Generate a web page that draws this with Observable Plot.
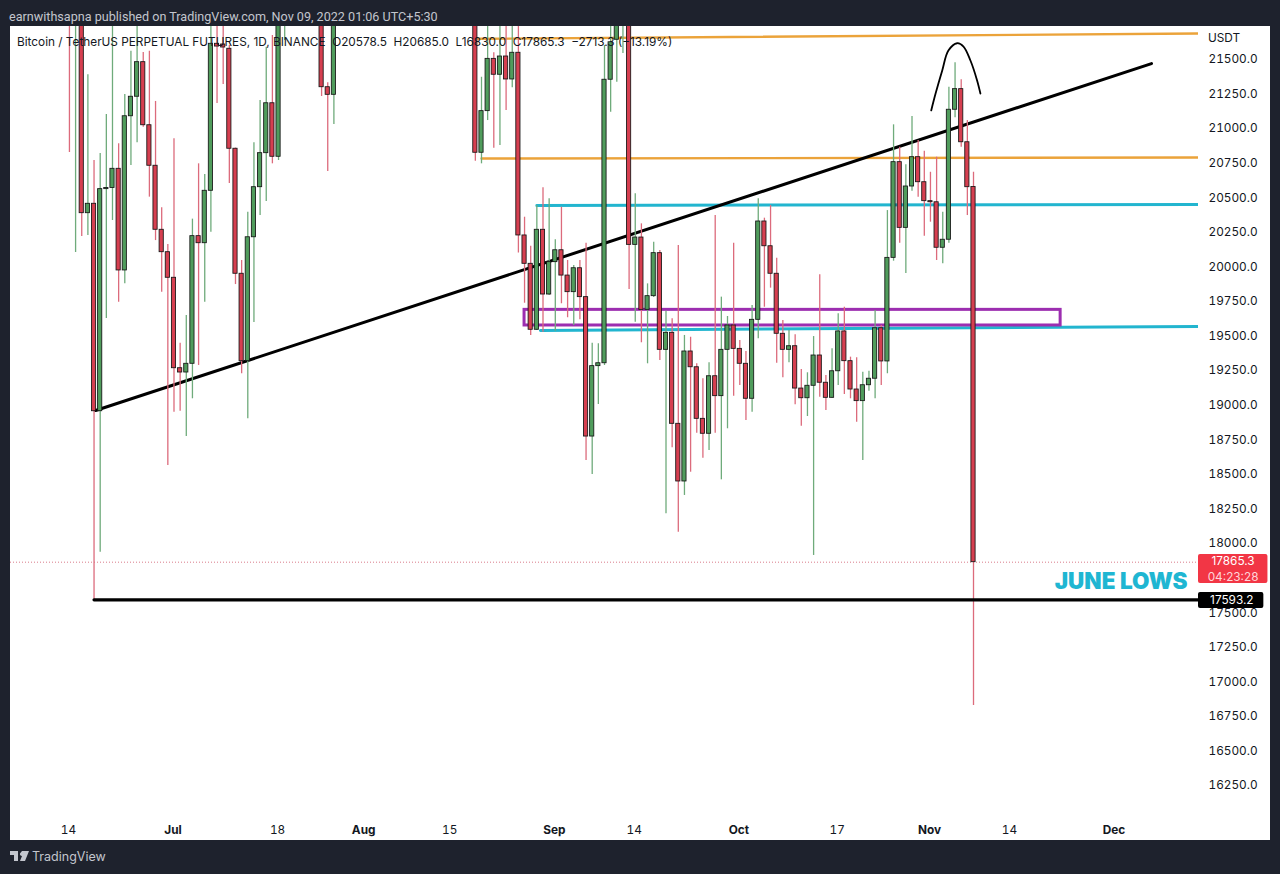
<!DOCTYPE html>
<html><head><meta charset="utf-8">
<script src="https://cdn.jsdelivr.net/npm/d3@7"></script>
<script src="https://cdn.jsdelivr.net/npm/@observablehq/plot@0.6"></script>
<style>
html,body{margin:0;padding:0;background:#1e222d;overflow:hidden}
#stage{position:relative;width:1280px;height:874px;background:#1e222d;font-family:Inter,Roboto,sans-serif}
#panel{position:absolute;left:10px;top:26px;width:1260px;height:814px;background:#fff}
#chart{position:absolute;left:0;top:0}
#pub{position:absolute;left:9px;top:9px;color:#c3c6ce;font:12.6px Roboto,sans-serif;white-space:nowrap}
#legend{position:absolute;left:17px;top:35px;color:#131722;font:11.8px Inter,sans-serif;white-space:pre}
#usdt{position:absolute;left:1208px;top:31px;color:#131722;font:11.8px Inter,sans-serif}
#brand{position:absolute;left:10px;top:849px;color:#c3c6ce;font:12.5px Inter,sans-serif;display:flex;align-items:center;gap:3px}
</style></head><body>
<div id="stage">
<div id="panel"></div>
<div id="chart"></div>
<div id="pub">earnwithsapna published on TradingView.com, Nov 09, 2022 01:06 UTC+5:30</div>
<div id="legend">Bitcoin / TetherUS PERPETUAL FUTURES, 1D, BINANCE  O20578.5  H20685.0  L16830.0  C17865.3  −2713.3 (−13.19%)</div>
<div id="usdt">USDT</div>
<div id="brand"><svg width="19" height="11" viewBox="0 0 19 11"><path fill="#c3c6ce" d="M0 0h8v10H4V4H0zM12 0h7l-4 10h-5l2-5a2 2 0 0 1-2-2.500z"/></svg><span>TradingView</span></div>
</div>
<script>
const dates = ["06-14","06-15","06-16","06-17","06-18","06-19","06-20","06-21","06-22","06-23","06-24","06-25","06-26","06-27","06-28","06-29","06-30",
"07-01","07-02","07-03","07-04","07-05","07-06","07-07","07-08","07-09","07-10","07-11","07-12","07-13","07-14","07-15","07-16","07-17","07-18","07-19",
"07-25","07-26","07-27",
"08-19","08-20","08-21","08-22","08-23","08-24","08-25","08-26","08-27","08-28","08-29","08-30","08-31",
"09-01","09-02","09-03","09-04","09-05","09-06","09-07","09-08","09-09","09-10","09-11","09-12","09-13","09-14","09-15","09-16","09-17","09-18","09-19","09-20","09-21","09-22","09-23","09-24","09-25","09-26","09-27","09-28","09-29","09-30",
"10-01","10-02","10-03","10-04","10-05","10-06","10-07","10-08","10-09","10-10","10-11","10-12","10-13","10-14","10-15","10-16","10-17","10-18","10-19","10-20","10-21","10-22","10-23","10-24","10-25","10-26","10-27","10-28","10-29","10-30","10-31",
"11-01","11-02","11-03","11-04","11-05","11-06","11-07","11-08"];
const opens = [22500,22100,22600,20389,20457,18957,20563,20571,20710,19975,21090,21231,21481,21025,20732,20269,20107,
19922,19268,19237,19300,20223,20172,20551,21614,21609,21578,20855,19951,19319,20215,20577,20823,21184,20797,22000,
22300,21300,21245,
22500,20826,21127,21505,21390,21522,21356,21549,20228,20023,19546,20269,19801,
20035,20121,19938,19818,19991,19782,18774,19283,19304,21354,21643,22000,22300,20160,20213,19690,19789,20100,19401,19524,18866,18449,19389,19275,18902,18794,19210,19066,19401,19577,
19408,19300,19047,19618,20329,20150,19951,19517,19401,19427,19121,19051,19141,19360,19163,19054,19246,19534,19319,19114,19030,19145,19192,19557,19317,20066,20758,20283,20582,20794,20613,
20476,20468,20139,20197,21137,21286,20902,20578.5];
const highs = [22800,22800,22800,21390,20770,20821,21103,21900,20891,21247,21560,21800,21551,21560,21197,20428,20163,
20927,19449,19649,20346,20746,20669,21800,21800,21800,21602,20860,20047,20396,20898,21204,21589,21674,22300,22500,
22400,21332,22500,
22700,21372,21800,21549,21800,21800,21800,21800,20360,20150,20445,20573,20493,
20197,20432,20047,20011,20047,20172,19449,19445,21602,21800,22100,22500,22500,20529,20312,19878,20179,20119,19680,19625,20155,19505,19492,19300,19191,19307,20372,19782,19642,20172,
19468,19389,19722,20493,20353,20445,20064,19613,19541,19510,19259,19235,19497,19943,19215,19408,19662,19709,19348,19343,19239,19246,19685,19577,20408,21028,20866,20739,21088,20915,20837,
20685,20794,20396,21300,21476,21354,21059,20685];
const lows = [20828,20105,20220,20228,17593,17938,19628,20336,19745,19878,20734,20898,21010,20505,20191,19818,18565,
18950,18957,18774,19047,19288,19745,20252,21182,21320,20604,19873,19228,18902,19599,20372,20474,20746,20770,21638,
21233,20691,21030,
20765,20746,21059,20859,20878,21132,21296,20101,19738,19505,19541,19528,19794,
19536,19734,19633,19577,19618,18601,18499,19006,19288,21119,21336,21544,19837,19601,19452,19300,19779,19324,18215,18693,18082,18348,18516,18798,18617,18673,18798,18461,18830,19066,
19143,18890,18950,19481,19709,19847,19304,19199,19307,19003,18849,18919,17914,19058,18962,19049,19143,19078,19047,18878,18601,19102,19047,19143,19228,20042,20172,19953,20548,20505,20223,
20324,20047,20023,20172,21079,20866,20372,16830];
const closes = [22100,22600,20389,20457,18957,20563,20571,20710,19975,21090,21231,21481,21025,20732,20269,20107,19922,
19268,19237,19300,20223,20172,20551,21614,21594,21587,20855,19951,19319,20215,20577,20823,21184,20797,22000,22300,
21300,21245,22200,
20826,21127,21505,21390,21522,21356,21549,20228,20023,19546,20269,19801,20035,
20121,19938,19818,19991,19782,18774,19283,19304,21354,21625,22000,22300,20160,20213,19690,19789,20100,19401,19524,18866,18449,19389,19275,18902,18794,19210,19066,19401,19577,19408,
19300,19047,19618,20329,20150,19951,19517,19401,19427,19121,19051,19141,19360,19163,19054,19246,19534,19319,19114,19030,19145,19192,19557,19317,20066,20758,20283,20582,20794,20613,20476,
20468,20139,20197,21137,21286,20902,20577,17865.3];

const priceTicks = [16250,16500,16750,17000,17250,17500,17750,18000,18250,18500,18750,19000,19250,19500,19750,20000,20250,20500,20750,21000,21250,21500];
const dayTicks = ["2022-06-14","2022-07-18","2022-08-15","2022-09-14","2022-10-17","2022-11-14"];
const monthTicks = ["2022-07-01","2022-08-01","2022-09-01","2022-10-01","2022-11-01","2022-12-01"];

const xDomain = ["2022-06-04T10:00Z","2022-12-14T14:00Z"];
const yDomain = [16012,21739];

const orangeTopDates = ["2022-08-19T12:00Z","2022-12-14T14:00Z"], orangeTopPrices = [21650,21688];
const orangeLowDates = ["2022-08-20T00:00Z","2022-12-14T14:00Z"], orangeLowPrices = [20784,20792];
const tealTopDates = ["2022-08-29T00:00Z","2022-12-14T14:00Z"], tealTopPrices = [20445,20452];
const tealLowDates = ["2022-08-29T14:00Z","2022-12-14T14:00Z"], tealLowPrices = [19541,19570];
const trendDates = ["2022-06-18T06:00Z","2022-12-06T22:30Z"], trendPrices = [18962,21471];
const juneLowDates = ["2022-06-18T00:00Z","2022-12-14T14:00Z"], juneLowPrices = [17593.2,17593.2];
const arcDates = ["2022-11-01T03:00Z","2022-11-01T20:00Z","2022-11-02T22:00Z","2022-11-03T22:00Z","2022-11-05T08:00Z","2022-11-06T09:00Z","2022-11-07T12:00Z","2022-11-08T14:00Z","2022-11-09T03:00Z"];
const arcPrices = [21132,21254,21421,21565,21618,21594,21493,21349,21254];
const boxDates = ["2022-08-27T00:00Z","2022-11-22T04:00Z"], boxPrices = [19577,19690];

const RED="#d63f50", GREEN="#509c5c", REDW="#dc6b7c", GREENW="#6fab7b";
const candles = dates.map((d,i)=>{
  const t = new Date(`2022-${d}T00:00Z`);
  return {t, t1:new Date(+t-0.34*864e5), t2:new Date(+t+0.34*864e5),
    o:opens[i], h:highs[i], l:lows[i], c:closes[i], up:closes[i]>=opens[i]};
});
const seg = (ds,ps)=>ds.map((d,i)=>({x:new Date(d),y:ps[i]}));
const lineMark=(ds,ps,stroke,strokeWidth)=>Plot.line(seg(ds,ps),{x:"x",y:"y",stroke,strokeWidth,clip:true});

const chart = Plot.plot({
  width:1280,height:874,marginLeft:10,marginRight:82,marginTop:26,marginBottom:56,
  style:{background:"transparent",fontFamily:"Inter, sans-serif",fontSize:"11.8px",color:"#131722"},
  x:{type:"utc",domain:xDomain.map(d=>new Date(d))},
  y:{domain:yDomain},
  marks:[
    Plot.ruleY([17865.3],{stroke:"#d97c8a",strokeDasharray:"1,2",strokeWidth:1}),
    lineMark(orangeTopDates,orangeTopPrices,"#eba33a",2.4),
    lineMark(orangeLowDates,orangeLowPrices,"#eba33a",2.4),
    lineMark(tealTopDates,tealTopPrices,"#22b5cf",3),
    lineMark(tealLowDates,tealLowPrices,"#22b5cf",3),
    Plot.rect([{}],{x1:()=>new Date(boxDates[0]),x2:()=>new Date(boxDates[1]),y1:()=>boxPrices[0],y2:()=>boxPrices[1],fill:"none",stroke:"#9c2eb0",strokeWidth:3}),
    lineMark(trendDates,trendPrices,"#000",3),
    Plot.ruleX(candles,{x:"t",y1:"l",y2:"h",stroke:d=>d.up?GREENW:REDW,strokeWidth:1.3,clip:true}),
    Plot.rect(candles,{x1:"t1",x2:"t2",y1:"o",y2:"c",fill:d=>d.up?GREEN:RED,stroke:"#151515",strokeWidth:0.85,clip:true}),
    lineMark(juneLowDates,juneLowPrices,"#000",3.2),
    Plot.line(seg(arcDates,arcPrices),{x:"x",y:"y",stroke:"#000",strokeWidth:1.8,curve:"catmull-rom"}),
    Plot.axisY({anchor:"right",ticks:priceTicks,tickSize:0,tickPadding:10,tickFormat:d3.format(".1f"),label:null,textAnchor:"start",fill:"#131722"}),
    Plot.axisX({ticks:dayTicks.map(d=>new Date(d+"T00:00Z")),tickSize:0,tickPadding:7,dx:-1,tickFormat:d=>d3.utcFormat("%-d")(d),label:null,fill:"#131722"}),
    Plot.axisX({ticks:monthTicks.map(d=>new Date(d+"T00:00Z")),tickSize:0,tickPadding:7,dx:-1,tickFormat:d=>d3.utcFormat("%b")(d),label:null,fontWeight:"bold",fill:"#131722"}),
    Plot.text(["JUNE LOWS"],{x:()=>new Date("2022-12-02T00:00Z"),y:()=>17726,fill:"#1fb6d2",fontSize:22.5,fontWeight:900,fontFamily:"Inter, sans-serif",letterSpacing:"-0.4px",text:d=>d}),
    Plot.rect([{}],{x1:()=>new Date("2022-12-14T14:00Z"),x2:()=>new Date("2022-12-25T21:00Z"),y1:()=>17711,y2:()=>17921,fill:"#f23645",rx:2}),
    Plot.rect([{}],{x1:()=>new Date("2022-12-14T14:00Z"),x2:()=>new Date("2022-12-25T05:00Z"),y1:()=>17531,y2:()=>17646,fill:"#000",rx:2}),
    Plot.text(["17865.3"],{x:()=>new Date("2022-12-20T05:00Z"),y:()=>17872,fill:"#fff",fontSize:11.8,text:d=>d}),
    Plot.text(["04:23:28"],{x:()=>new Date("2022-12-20T05:00Z"),y:()=>17760,fill:"#ffd5d9",fontSize:11.8,text:d=>d}),
    Plot.text(["17593.2"],{x:()=>new Date("2022-12-20T00:00Z"),y:()=>17593.2,fill:"#fff",fontSize:11.8,text:d=>d})
  ]
});
document.getElementById("chart").append(chart);
</script>
</body></html>
